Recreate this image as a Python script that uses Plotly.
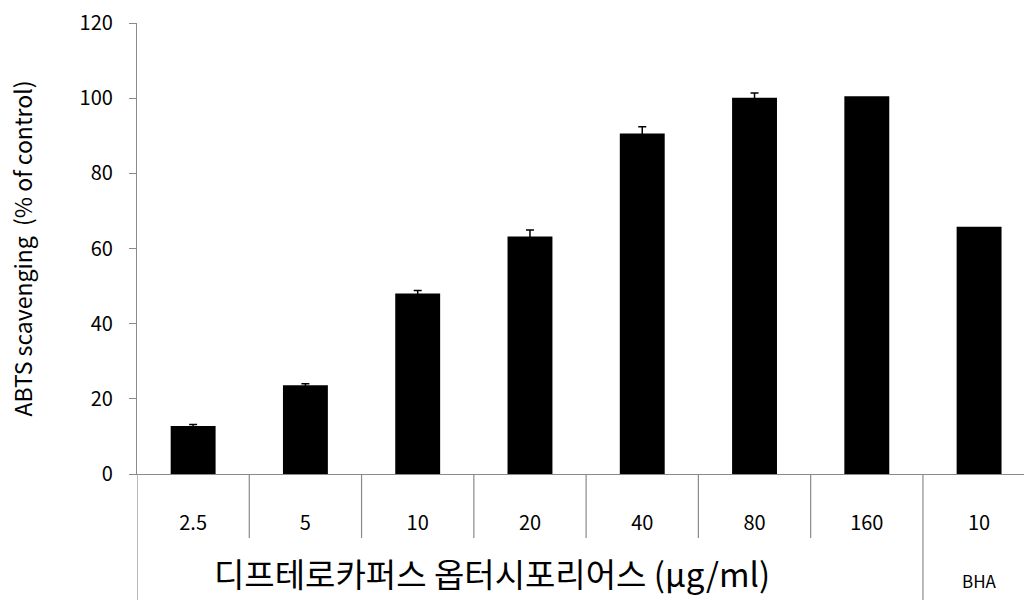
import plotly.graph_objects as go

# ABTS radical scavenging activity by concentration
categories = ["2.5", "5", "10", "20", "40", "80", "160", "10"]
values = [12.8, 23.6, 48.0, 63.2, 90.6, 100.1, 100.5, 65.8]
errors = [0.4, 0.4, 0.8, 1.7, 1.8, 1.3]   # 160 and BHA have no error bar
y_ticks = [0, 20, 40, 60, 80, 100, 120]

sample_label = "디프테로카퍼스 옵터시포리어스 (μg/ml)"
control_label = "BHA"
y_title = "ABTS scavenging  (% of control)"

FONT = "Noto Sans CJK KR"
AXIS_GRAY = "#8a8a8a"

x = list(range(len(categories)))
n_err = len(errors)

fig = go.Figure()
fig.add_trace(go.Bar(
    x=x[:n_err],
    y=values[:n_err],
    width=0.4,
    marker=dict(color="black", line=dict(width=0)),
    error_y=dict(type="data", array=errors, visible=True,
                 color="black", thickness=1.5, width=4),
    showlegend=False,
))
fig.add_trace(go.Bar(
    x=x[n_err:],
    y=values[n_err:],
    width=0.4,
    marker=dict(color="black", line=dict(width=0)),
    showlegend=False,
))

W, H = 1024, 600
L, T, B, R = 137, 23, 126, 0
plot_h = H - T - B

def px_down(p):
    # convert pixels below the x-axis into paper units
    return -p / plot_h

shapes = []
# short separators between concentration cells
for i in range(len(categories) - 2):
    shapes.append(dict(type="line", xref="x", yref="paper",
                       x0=i + 0.5, x1=i + 0.5, y0=0, y1=px_down(64),
                       line=dict(color=AXIS_GRAY, width=1.2)))
# long separators: left border and the one before the BHA cell
for xv in (-0.5, len(categories) - 1.5):
    shapes.append(dict(type="line", xref="x", yref="paper",
                       x0=xv, x1=xv, y0=0, y1=px_down(B),
                       line=dict(color=AXIS_GRAY, width=1.2)))

annotations = [
    dict(x=2.66, xref="x", y=px_down(99), yref="paper",
         text=sample_label, showarrow=False,
         font=dict(family=FONT, size=33, color="black"),
         xanchor="center", yanchor="middle"),
    dict(x=len(categories) - 1, xref="x", y=px_down(106), yref="paper",
         text=control_label, showarrow=False,
         font=dict(family=FONT, size=17, color="black"),
         xanchor="center", yanchor="middle"),
]

fig.update_layout(
    width=W, height=H,
    margin=dict(l=L, r=R, t=T, b=B, pad=0),
    paper_bgcolor="white", plot_bgcolor="white",
    barmode="overlay",
    shapes=shapes,
    annotations=annotations,
    xaxis=dict(
        range=[-0.5, 7.4],
        tickmode="array", tickvals=x, ticktext=categories,
        ticks="", showgrid=False, zeroline=False,
        showline=True, linecolor=AXIS_GRAY, linewidth=1.2,
        ticklabelstandoff=31,
        tickfont=dict(family=FONT, size=20, color="black"),
    ),
    yaxis=dict(
        range=[0, 120],
        tickmode="array", tickvals=y_ticks,
        ticks="outside", ticklen=7, tickcolor=AXIS_GRAY, tickwidth=1.2,
        ticklabelstandoff=12,
        showgrid=False, zeroline=False,
        showline=True, linecolor=AXIS_GRAY, linewidth=1.2,
        tickfont=dict(family=FONT, size=20, color="black"),
        title=dict(text=y_title, standoff=40,
                   font=dict(family=FONT, size=23, color="black")),
    ),
)

fig.write_html("out.html")
